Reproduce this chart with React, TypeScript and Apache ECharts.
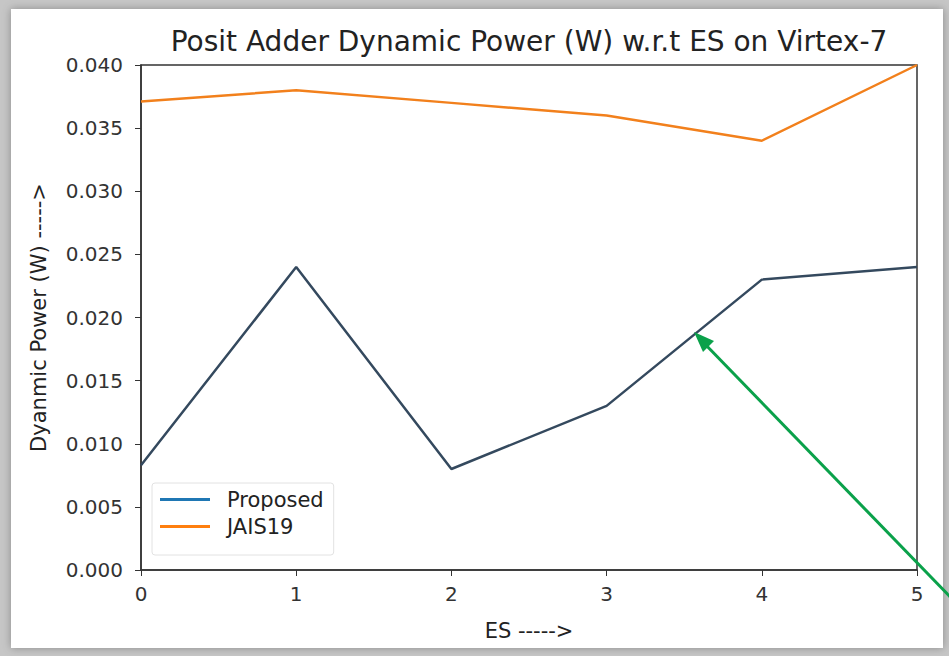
import React, { useEffect, useRef } from "react";
import * as echarts from "echarts";

const esValues = [0, 1, 2, 3, 4, 5];
const proposed = [0.0083, 0.024, 0.008, 0.013, 0.023, 0.024];
const jais19 = [0.0371, 0.038, 0.037, 0.036, 0.034, 0.04];
const seriesNames = ["Proposed", "JAIS19"];
const titleText = "Posit Adder Dynamic Power (W) w.r.t ES on Virtex-7";
const yAxisTitle = "Dyanmic Power (W) ----->";
const xAxisTitle = "ES ----->";

export default function App() {
  const ref = useRef<HTMLDivElement>(null);
  useEffect(() => {
    const chart = echarts.init(ref.current!, null, { renderer: "svg" });
    const font = "DejaVu Sans";
    chart.setOption({
      animation: false,
      backgroundColor: "#c6c6c6",
      textStyle: { fontFamily: font },
      graphic: [
        {
          type: "rect",
          z: -10,
          shape: { x: 11, y: 9, width: 932, height: 639 },
          style: { fill: "#ffffff", shadowBlur: 8, shadowColor: "rgba(0,0,0,0.3)" },
        },
        {
          type: "line",
          z: 100,
          shape: { x1: 960, y1: 607, x2: 702, y2: 341 },
          style: { stroke: "#0aa14a", lineWidth: 3 },
        },
        {
          type: "polygon",
          z: 100,
          shape: { points: [[694, 332], [714, 341], [703, 352]] },
          style: { fill: "#0aa14a" },
        },
      ],
      title: {
        text: titleText,
        left: 524,
        textAlign: "center",
        top: 22,
        textStyle: { fontFamily: font, fontSize: 28, fontWeight: "normal", color: "#222" },
      },
      legend: {
        data: [
          { name: seriesNames[0], itemStyle: { color: "#1f77b4" } },
          { name: seriesNames[1], itemStyle: { color: "#ff7f0e" } },
        ],
        orient: "vertical",
        left: 152,
        top: 483,
        icon: "rect",
        itemWidth: 50,
        itemHeight: 3,
        itemGap: 6,
        padding: [6, 10, 18, 8],
        borderColor: "#e2e2e2",
        borderWidth: 1,
        borderRadius: 3,
        backgroundColor: "rgba(255,255,255,0.9)",
        textStyle: { fontFamily: font, fontSize: 21, color: "#222", padding: [0, 0, 0, 12] },
      },
      grid: {
        left: 141,
        right: 32,
        top: 65,
        bottom: 86,
        show: true,
        borderColor: "#333",
        borderWidth: 1.5,
        backgroundColor: "transparent",
      },
      xAxis: {
        type: "value",
        min: 0,
        max: 5,
        interval: 1,
        name: xAxisTitle,
        nameLocation: "middle",
        nameGap: 50,
        nameTextStyle: { fontFamily: font, fontSize: 21, color: "#222" },
        axisLine: { lineStyle: { color: "#333", width: 1.5 } },
        axisTick: { inside: false, length: 6, lineStyle: { color: "#333" } },
        axisLabel: { fontFamily: font, fontSize: 20, color: "#333", margin: 14 },
        splitLine: { show: false },
      },
      yAxis: {
        type: "value",
        min: 0,
        max: 0.04,
        interval: 0.005,
        name: yAxisTitle,
        nameLocation: "middle",
        nameGap: 92,
        nameTextStyle: { fontFamily: font, fontSize: 21, color: "#222" },
        axisLine: { show: true, lineStyle: { color: "#333", width: 1.5 } },
        axisTick: { show: true, length: 6, lineStyle: { color: "#333" } },
        axisLabel: {
          fontFamily: font,
          fontSize: 20,
          color: "#333",
          margin: 18,
          formatter: (v: number) => v.toFixed(3),
        },
        splitLine: { show: false },
      },
      series: [
        {
          name: seriesNames[0],
          type: "line",
          data: esValues.map((x, i) => [x, proposed[i]]),
          showSymbol: false,
          itemStyle: { color: "#1f77b4" },
          lineStyle: { color: "#34495e", width: 2.5 },
        },
        {
          name: seriesNames[1],
          type: "line",
          data: esValues.map((x, i) => [x, jais19[i]]),
          showSymbol: false,
          itemStyle: { color: "#ff7f0e" },
          lineStyle: { color: "#f2801c", width: 2.5 },
        },
      ],
    });
    return () => chart.dispose();
  }, []);
  return <div ref={ref} style={{ width: 949, height: 656, position: "fixed", left: 0, top: 0 }} />;
}
